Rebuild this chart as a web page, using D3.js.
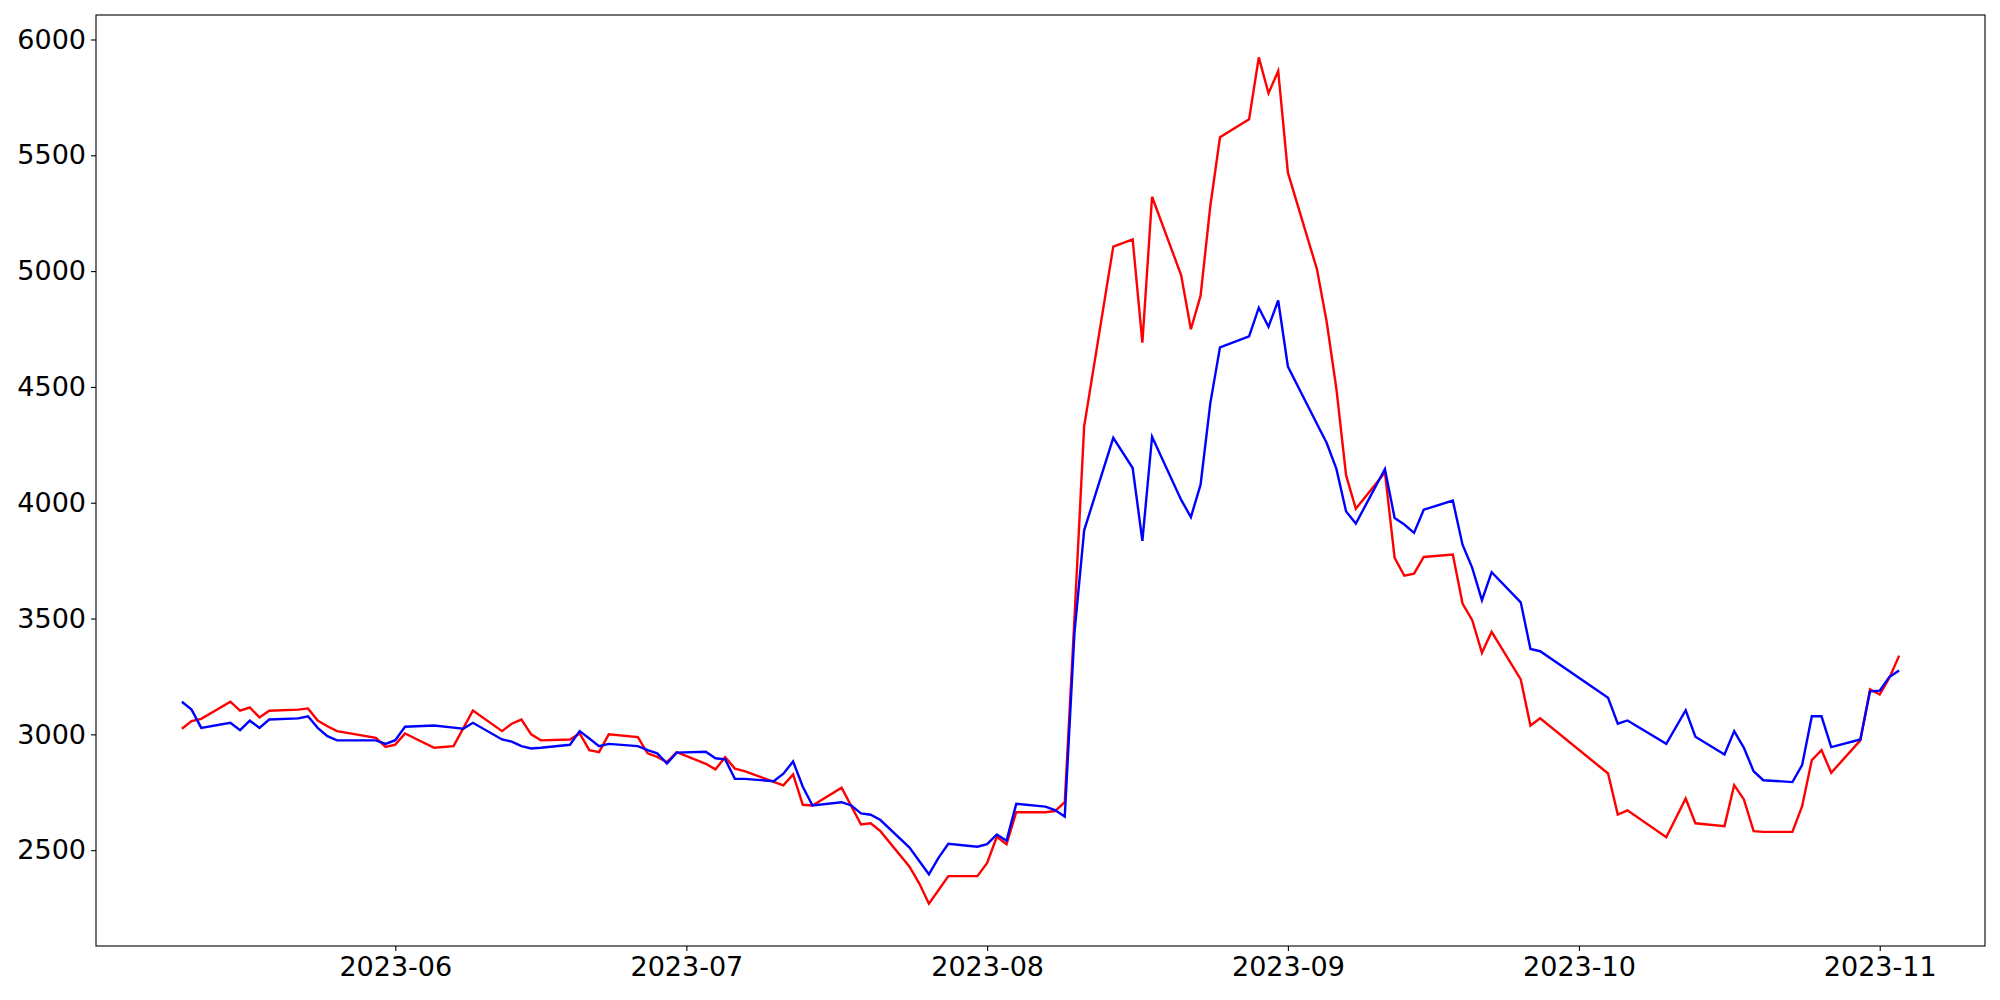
<!DOCTYPE html>
<html lang="en">
<head>
<meta charset="utf-8" />
<title>Two series</title>
<style>
  body { margin: 0; background: #fff; }
  text { font-family: "DejaVu Sans", sans-serif; }
</style>
</head>
<body>
<div id="chart"></div>
<script src="https://d3js.org/d3.v7.min.js"></script>
<script>
const dates = [
  '2023-05-10', '2023-05-11', '2023-05-12', '2023-05-15', '2023-05-16', '2023-05-17', '2023-05-18', '2023-05-19',
  '2023-05-22', '2023-05-23', '2023-05-24', '2023-05-25', '2023-05-26', '2023-05-30', '2023-05-31', '2023-06-01',
  '2023-06-02', '2023-06-05', '2023-06-07', '2023-06-08', '2023-06-09', '2023-06-12', '2023-06-13', '2023-06-14',
  '2023-06-15', '2023-06-16', '2023-06-19', '2023-06-20', '2023-06-21', '2023-06-22', '2023-06-23', '2023-06-26',
  '2023-06-27', '2023-06-28', '2023-06-29', '2023-06-30', '2023-07-03', '2023-07-04', '2023-07-05', '2023-07-06',
  '2023-07-07', '2023-07-10', '2023-07-11', '2023-07-12', '2023-07-13', '2023-07-14', '2023-07-17', '2023-07-18',
  '2023-07-19', '2023-07-20', '2023-07-21', '2023-07-24', '2023-07-25', '2023-07-26', '2023-07-27', '2023-07-28',
  '2023-07-31', '2023-08-01', '2023-08-02', '2023-08-03', '2023-08-04', '2023-08-07', '2023-08-08', '2023-08-09',
  '2023-08-10', '2023-08-11', '2023-08-14', '2023-08-16', '2023-08-17', '2023-08-18', '2023-08-21', '2023-08-22',
  '2023-08-23', '2023-08-24', '2023-08-25', '2023-08-28', '2023-08-29', '2023-08-30', '2023-08-31', '2023-09-01',
  '2023-09-04', '2023-09-05', '2023-09-06', '2023-09-07', '2023-09-08', '2023-09-11', '2023-09-12', '2023-09-13',
  '2023-09-14', '2023-09-15', '2023-09-18', '2023-09-19', '2023-09-20', '2023-09-21', '2023-09-22', '2023-09-25',
  '2023-09-26', '2023-09-27', '2023-10-04', '2023-10-05', '2023-10-06', '2023-10-10', '2023-10-12', '2023-10-13',
  '2023-10-16', '2023-10-17', '2023-10-18', '2023-10-19', '2023-10-20', '2023-10-23', '2023-10-24', '2023-10-25',
  '2023-10-26', '2023-10-27', '2023-10-30', '2023-10-31', '2023-11-01', '2023-11-02', '2023-11-03'
];

const redValues = [
  3024, 3057, 3067, 3141, 3102, 3116, 3073, 3102,
  3107, 3112, 3060, 3035, 3014, 2985, 2946, 2956,
  3004, 2942, 2949, 3026, 3103, 3014, 3046, 3064,
  3000, 2974, 2978, 3004, 2932, 2923, 3000, 2988,
  2918, 2903, 2880, 2923, 2873, 2849, 2902, 2852,
  2841, 2795, 2780, 2827, 2696, 2693, 2770, 2690,
  2611, 2616, 2582, 2429, 2357, 2269, 2328, 2388,
  2388, 2445, 2558, 2526, 2664, 2664, 2669, 2707,
  3500, 4330, 5106, 5137, 4691, 5321, 4982, 4749,
  4894, 5280, 5578, 5656, 5923, 5768, 5864, 5425,
  5007, 4780, 4491, 4118, 3974, 4131, 3762, 3685,
  3694, 3766, 3776, 3565, 3493, 3352, 3443, 3237,
  3038, 3069, 2831, 2654, 2672, 2556, 2723, 2616,
  2604, 2781, 2719, 2582, 2579, 2579, 2690, 2889,
  2932, 2834, 2974, 3194, 3172, 3245, 3340
];

const blueValues = [
  3141, 3107, 3028, 3050, 3018, 3059, 3028, 3064,
  3069, 3078, 3028, 2992, 2974, 2974, 2959, 2975,
  3033, 3038, 3029, 3024, 3050, 2978, 2969, 2949,
  2939, 2942, 2955, 3014, 2982, 2949, 2959, 2949,
  2932, 2918, 2874, 2921, 2925, 2897, 2892, 2808,
  2808, 2798, 2830, 2883, 2774, 2693, 2707, 2693,
  2659, 2653, 2630, 2511, 2453, 2396, 2468, 2528,
  2515, 2526, 2568, 2541, 2700, 2688, 2673, 2645,
  3438, 3881, 4280, 4150, 3835, 4285, 4012, 3938,
  4078, 4429, 4671, 4718, 4842, 4760, 4873, 4588,
  4340, 4258, 4146, 3962, 3910, 4146, 3934, 3906,
  3870, 3970, 4009, 3819, 3719, 3579, 3700, 3570,
  3369, 3359, 3158, 3046, 3060, 2959, 3104, 2990,
  2913, 3014, 2942, 2841, 2802, 2794, 2867, 3078,
  3078, 2945, 2978, 3186, 3189, 3248, 3276
];

const yTickValues = [2500, 3000, 3500, 4000, 4500, 5000, 5500, 6000];

const width = 2000;
const height = 1000;
const margin = { top: 15, right: 15, bottom: 54, left: 96 };
const innerW = width - margin.left - margin.right;
const innerH = height - margin.top - margin.bottom;
const fontSize = 27;

const parse = d3.timeParse('%Y-%m-%d');
const times = dates.map(parse);

// matplotlib style 5% padding on both axes
const [t0, t1] = d3.extent(times);
const tPad = (t1 - t0) * 0.05;
const allValues = redValues.concat(blueValues);
const [v0, v1] = d3.extent(allValues);
const vPad = (v1 - v0) * 0.05;

const x = d3.scaleTime()
  .domain([new Date(+t0 - tPad), new Date(+t1 + tPad)])
  .range([0, innerW]);

const y = d3.scaleLinear()
  .domain([v0 - vPad, v1 + vPad])
  .range([innerH, 0]);

const svg = d3.select('#chart')
  .append('svg')
  .attr('width', width)
  .attr('height', height)
  .style('display', 'block')
  .append('g')
  .attr('transform', `translate(${margin.left}, ${margin.top})`);

const xAxis = d3.axisBottom(x)
  .ticks(d3.timeMonth.every(1))
  .tickFormat(d3.timeFormat('%Y-%m'))
  .tickSize(5)
  .tickSizeOuter(0)
  .tickPadding(6);

const yAxis = d3.axisLeft(y)
  .tickValues(yTickValues)
  .tickFormat(d3.format('d'))
  .tickSize(5)
  .tickSizeOuter(0)
  .tickPadding(5);

const gx = svg.append('g')
  .attr('transform', `translate(0, ${innerH})`)
  .call(xAxis);

const gy = svg.append('g').call(yAxis);

[gx, gy].forEach(g => {
  g.select('.domain').remove();
  g.selectAll('line').attr('stroke', '#000').attr('stroke-width', 1.1);
  g.selectAll('text')
    .attr('fill', '#000')
    .style('font-family', '"DejaVu Sans", sans-serif')
    .style('font-size', fontSize + 'px');
});

const line = values => d3.line()
  .x((d, i) => x(times[i]))
  .y(d => y(d))(values);

svg.append('path')
  .attr('d', line(redValues))
  .attr('fill', 'none')
  .attr('stroke', '#ff0000')
  .attr('stroke-width', 2.4)
  .attr('stroke-linejoin', 'miter');

svg.append('path')
  .attr('d', line(blueValues))
  .attr('fill', 'none')
  .attr('stroke', '#0000ff')
  .attr('stroke-width', 2.4)
  .attr('stroke-linejoin', 'miter');

svg.append('rect')
  .attr('width', innerW)
  .attr('height', innerH)
  .attr('fill', 'none')
  .attr('stroke', '#000')
  .attr('stroke-width', 1.1);
</script>
</body>
</html>
